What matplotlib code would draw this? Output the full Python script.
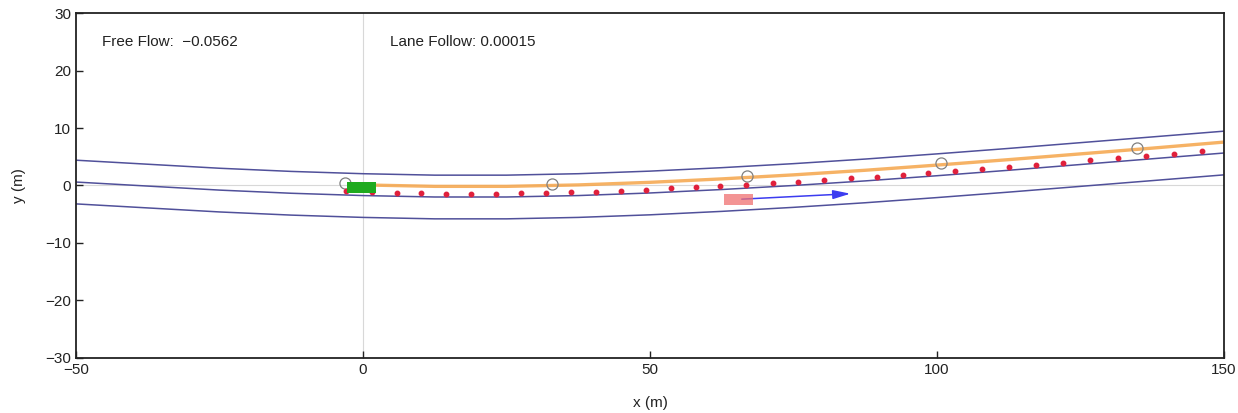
import matplotlib
matplotlib.use("Agg")
import matplotlib.pyplot as plt
from matplotlib.patches import Rectangle, FancyArrowPatch

plt.rcParams['font.family'] = ['Liberation Sans', 'DejaVu Sans']

# Lane boundary samples (x in m)
lane_x = [-50, -37.5, -25, -12.5, 0, 12.5, 25, 37.5, 50, 62.5, 75, 87.5, 100, 112.5, 125, 137.5, 150]
lane_top = [4.4, 3.7, 3.0, 2.45, 2.05, 1.8, 1.8, 2.05, 2.5, 3.1, 3.8, 4.6, 5.5, 6.45, 7.45, 8.45, 9.45]
lane_mid = [0.6, -0.1, -0.8, -1.35, -1.75, -2.0, -2.0, -1.75, -1.3, -0.7, 0.0, 0.8, 1.7, 2.65, 3.65, 4.65, 5.65]
lane_bot = [-3.2, -3.9, -4.6, -5.15, -5.55, -5.8, -5.8, -5.55, -5.1, -4.5, -3.8, -3.0, -2.1, -1.15, -0.15, 0.85, 1.85]

# Reference path (orange)
ref_x = [0, 12.5, 25, 37.5, 50, 62.5, 75, 87.5, 100, 112.5, 125, 137.5, 150]
ref_y = [0.1, -0.15, -0.15, 0.1, 0.55, 1.15, 1.85, 2.65, 3.55, 4.5, 5.5, 6.5, 7.55]

# Predicted trajectory (red dots)
traj_x = [-3.0, 1.6, 5.9, 10.1, 14.5, 18.8, 23.2, 27.5, 31.9, 36.2, 40.6, 44.9, 49.3, 53.7,
          58.0, 62.2, 66.7, 71.4, 75.8, 80.3, 85.0, 89.5, 94.1, 98.4, 103.1, 107.8, 112.5,
          117.2, 122.0, 126.7, 131.5, 136.4, 141.3, 146.2]
traj_y = [-0.9, -1.15, -1.25, -1.35, -1.4, -1.4, -1.4, -1.35, -1.25, -1.15, -1.05, -0.9, -0.75,
          -0.5, -0.3, -0.1, 0.15, 0.4, 0.65, 0.95, 1.25, 1.55, 1.9, 2.2, 2.55, 2.9, 3.25, 3.6,
          4.0, 4.4, 4.75, 5.15, 5.55, 5.95]

# Waypoints (open circles)
wp_x = [-3.1, 32.9, 66.9, 100.7, 134.8]
wp_y = [0.5, 0.3, 1.65, 3.9, 6.5]

# Ego vehicle (green) and other vehicle (pink) : [x_min, y_min, length, width]
ego_box = [-2.8, -1.35, 5.1, 2.0]
other_box = [62.9, -3.4, 5.1, 2.0]
other_arrow = [(65.5, -2.4), (85.4, -1.4)]

score_labels = ["Free Flow:  \u22120.0562", "Lane Follow: 0.00015"]
score_pos = [(-45.5, 25.0), (4.7, 25.0)]

fig = plt.figure(figsize=(12.38, 4.13), dpi=100)
ax = fig.add_axes([0.0614, 0.1332, 0.9273, 0.8353])

ax.axhline(0, color='#d8d8d8', lw=0.8, zorder=0)
ax.axvline(0, color='#d8d8d8', lw=0.8, zorder=0)

lane_color = '#50509a'
for ys in (lane_top, lane_mid, lane_bot):
    ax.plot(lane_x, ys, color=lane_color, lw=1.1, zorder=1)

ax.plot(ref_x, ref_y, color='#f5a54a', lw=2.4, alpha=0.85, zorder=2)

ax.plot(wp_x, wp_y, linestyle='none', marker='o', markersize=8, markerfacecolor='none',
        markeredgecolor='#808080', markeredgewidth=0.9, zorder=3)

ax.plot(traj_x, traj_y, linestyle='none', marker='o', markersize=3.2,
        color='#e0203c', zorder=4)

ax.add_patch(Rectangle((ego_box[0], ego_box[1]), ego_box[2], ego_box[3],
                       facecolor='#1faa1f', edgecolor='none', zorder=5))

arr = FancyArrowPatch(other_arrow[0], other_arrow[1],
                      arrowstyle='-|>,head_length=7,head_width=1.8',
                      color='#3c3cf0', lw=1.1, mutation_scale=1.5, zorder=5)
ax.add_patch(arr)
ax.add_patch(Rectangle((other_box[0], other_box[1]), other_box[2], other_box[3],
                       facecolor='#f07070', edgecolor='none', alpha=0.75, zorder=6))

for lab, (tx, ty) in zip(score_labels, score_pos):
    ax.text(tx, ty, lab, fontsize=11, color='#222222', va='center', ha='left')

ax.set_xlim(-50, 150)
ax.set_ylim(-30, 30)
ax.set_xticks([-50, 0, 50, 100, 150])
ax.set_yticks([-30, -20, -10, 0, 10, 20, 30])
ax.tick_params(direction='in', length=5, width=1, labelsize=11, colors='#222222')
ax.set_xticklabels(['\u221250', '0', '50', '100', '150'])
ax.set_yticklabels(['\u221230', '\u221220', '\u221210', '0', '10', '20', '30'])
for s in ax.spines.values():
    s.set_linewidth(1.3)
    s.set_color('#222222')
ax.set_xlabel('x (m)', fontsize=11, color='#222222', labelpad=14)
ax.set_ylabel('y (m)', fontsize=11, color='#222222', labelpad=14)

fig.savefig('out.png', dpi=100)
